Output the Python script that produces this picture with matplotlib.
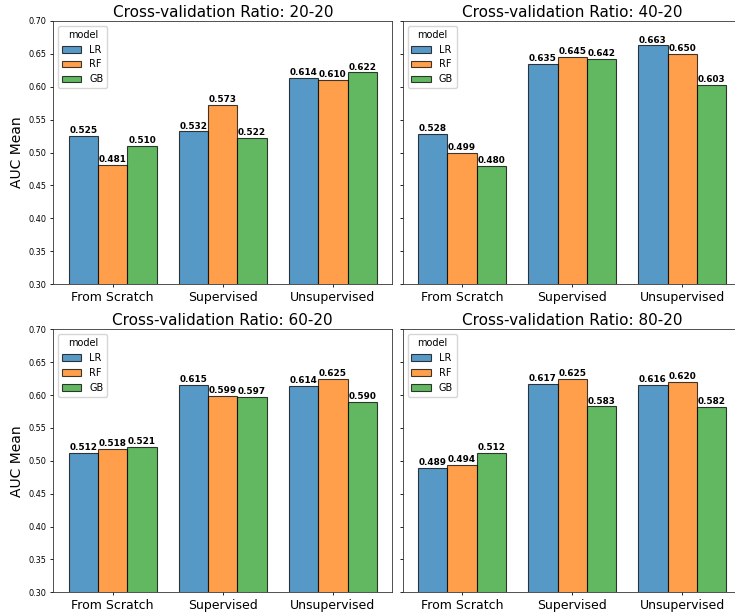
import numpy as np
import matplotlib
matplotlib.use("Agg")
import matplotlib.pyplot as plt

# categories / series
methods = ["From Scratch", "Supervised", "Unsupervised"]
models = ["LR", "RF", "GB"]
ratios = ["20-20", "40-20", "60-20", "80-20"]

lr_20 = [0.525, 0.532, 0.614]
rf_20 = [0.481, 0.573, 0.610]
gb_20 = [0.510, 0.522, 0.622]

lr_40 = [0.528, 0.635, 0.663]
rf_40 = [0.499, 0.645, 0.650]
gb_40 = [0.480, 0.642, 0.603]

lr_60 = [0.512, 0.615, 0.614]
rf_60 = [0.518, 0.599, 0.625]
gb_60 = [0.521, 0.597, 0.590]

lr_80 = [0.489, 0.617, 0.616]
rf_80 = [0.494, 0.625, 0.620]
gb_80 = [0.512, 0.583, 0.582]

results = {
    "20-20": [lr_20, rf_20, gb_20],
    "40-20": [lr_40, rf_40, gb_40],
    "60-20": [lr_60, rf_60, gb_60],
    "80-20": [lr_80, rf_80, gb_80],
}

colors = ["#1f77b4", "#ff7f0e", "#2ca02c"]

plt.rcParams["axes.linewidth"] = 0.6
plt.rcParams["axes.edgecolor"] = "#333333"
plt.rcParams["xtick.major.size"] = 2.5
plt.rcParams["ytick.major.size"] = 2.5
plt.rcParams["xtick.major.width"] = 0.6
plt.rcParams["ytick.major.width"] = 0.6
plt.rcParams["xtick.major.pad"] = 2.5
plt.rcParams["ytick.major.pad"] = 2.5

fig, axes = plt.subplots(2, 2, figsize=(7.35, 6.15), dpi=100, sharey=True)

# axes positions (right column runs past the figure edge, as in the reference)
W, H = 735.0, 615.0
lefts = [53.3 / W, 402.7 / W]
bottoms = [1 - 284 / H, 1 - 592.3 / H]
w = 339 / W
h = 263 / H

x = np.arange(len(methods))
bw = 0.8 / 3

for i, ratio in enumerate(ratios):
    ax = axes.flat[i]
    r, c = divmod(i, 2)
    ax.set_position([lefts[c], bottoms[r], w, h])
    for j, model in enumerate(models):
        bars = ax.bar(x + (j - 1) * bw, results[ratio][j], width=bw,
                      color=colors[j], alpha=0.75, edgecolor="black",
                      linewidth=0.8, label=model)
        ax.bar_label(bars, labels=["%.3f" % v for v in results[ratio][j]],
                     padding=0.5, fontsize=6.4, fontweight="bold")
    ax.set_ylim(0.3, 0.7)
    ax.set_yticks(np.arange(0.30, 0.701, 0.05))
    ax.set_xticks(x)
    ax.set_xticklabels(methods, fontsize=9)
    ax.tick_params(axis="y", labelsize=5.9)
    ax.set_title("Cross-validation Ratio: " + ratio, fontsize=11, pad=3)
    if c == 0:
        ax.set_ylabel("AUC Mean", fontsize=10, labelpad=3)
    ax.legend(title="model", loc="upper left", fontsize=7, title_fontsize=7)

fig.savefig("out.png", dpi=100)
